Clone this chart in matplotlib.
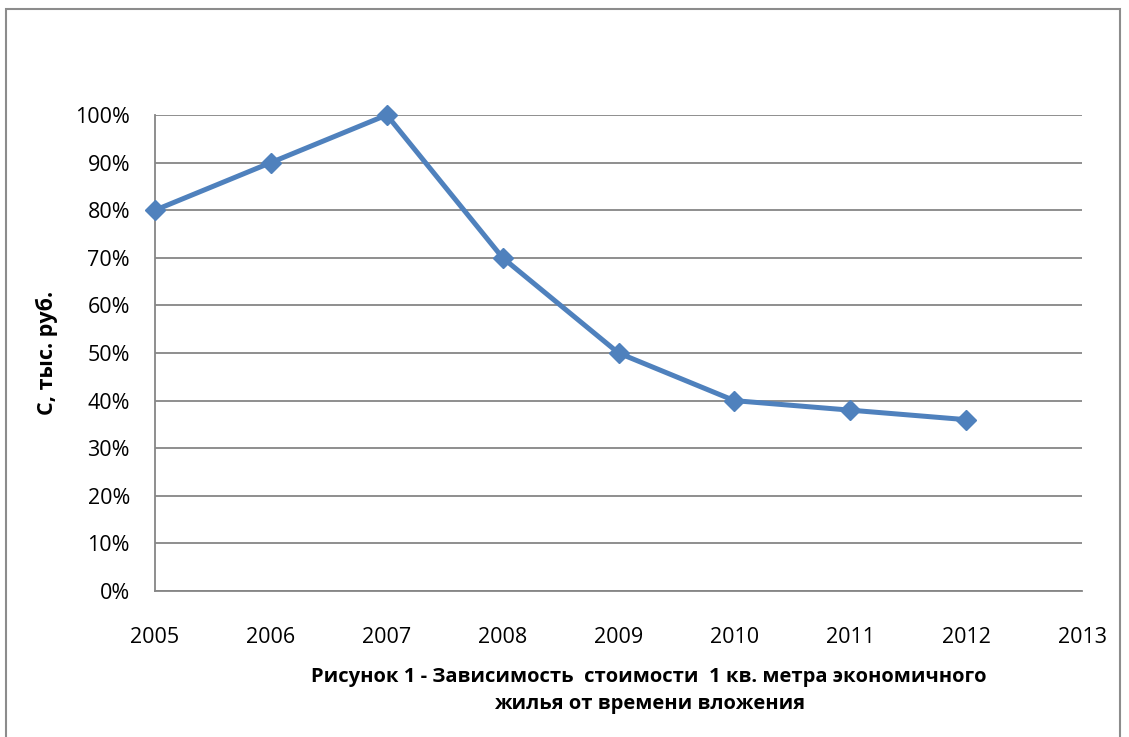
import matplotlib.pyplot as plt
from matplotlib.patches import Rectangle
from matplotlib.ticker import PercentFormatter

# data
years = [2005, 2006, 2007, 2008, 2009, 2010, 2011, 2012]
share = [80, 90, 100, 70, 50, 40, 38, 36]
y_ticks = list(range(0, 101, 10))
x_ticks = list(range(2005, 2014))

plt.rcParams['font.family'] = ['Open Sans', 'DejaVu Sans']

fig = plt.figure(figsize=(11.29, 7.37), dpi=100)
ax = fig.add_axes([0.1373, 0.198, 0.8211, 0.646])

# outer chart border
fig.patches.append(Rectangle((6 / 1129, -0.05), 1114 / 1129, 1.05 - 9 / 737,
                             transform=fig.transFigure, fill=False,
                             edgecolor='#8c8c8c', linewidth=1.5))

ax.plot(years, share, color='#4F81BD', linewidth=3.6, marker='D',
        markersize=10, markerfacecolor='#4F81BD', markeredgecolor='#4F81BD',
        clip_on=False, zorder=3)

ax.set_xlim(2005, 2013)
ax.set_ylim(0, 100)
ax.set_xticks(x_ticks)
ax.set_yticks(y_ticks)
ax.yaxis.set_major_formatter(PercentFormatter(decimals=0))
ax.grid(axis='y', color='#868686', linewidth=1.3)
ax.set_axisbelow(True)

for side in ['top', 'right']:
    ax.spines[side].set_visible(False)
for side in ['left', 'bottom']:
    ax.spines[side].set_color('#868686')
    ax.spines[side].set_linewidth(1.3)

ax.tick_params(length=0, labelsize=15.5, colors='black')
ax.tick_params(axis='x', pad=26)
ax.tick_params(axis='y', pad=18)

ax.set_ylabel('С, тыс. руб.', fontsize=15.5, fontweight='bold', labelpad=12)
fig.text(0.575, 0.063,
         'Рисунок 1 - Зависимость  стоимости  1 кв. метра экономичного\nжилья от времени вложения',
         ha='center', va='center', fontsize=14.5, fontweight='bold',
         linespacing=1.5)

fig.savefig('out.png', dpi=100)
